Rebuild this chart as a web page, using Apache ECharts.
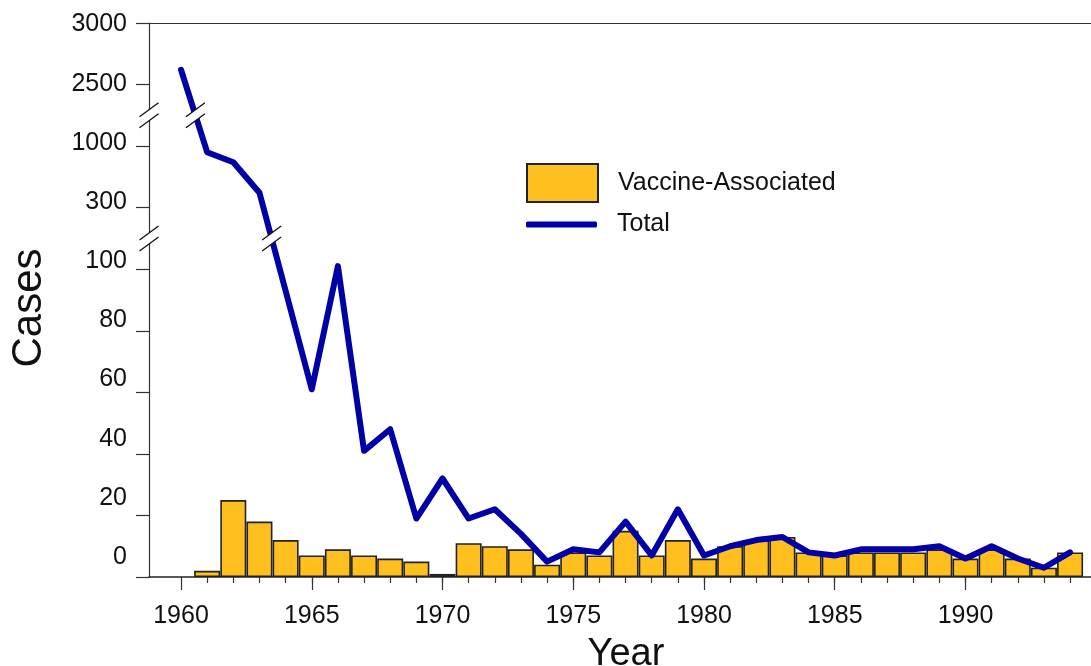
<!DOCTYPE html>
<html>
<head>
<meta charset="utf-8">
<script src="https://cdn.jsdelivr.net/npm/echarts@6/dist/echarts.min.js"></script>
<style>
  html, body { margin: 0; padding: 0; background: #fff; overflow: hidden; }
  #chart { width: 1091px; height: 666px; }
</style>
</head>
<body>
<div id="chart"></div>
<script>
// ---- data ----
const years = [1960,1961,1962,1963,1964,1965,1966,1967,1968,1969,1970,1971,1972,1973,1974,1975,1976,1977,1978,1979,1980,1981,1982,1983,1984,1985,1986,1987,1988,1989,1990,1991,1992,1993,1994];
const totalCases = [2620,931,817,470,93,61,110,41,48,19,32,19,22,14,5,9,8,18,7,22,7,10,12,13,8,7,9,9,9,10,6,10,6,3,8];
const vaccineAssociated = [null,2,25,18,12,7,9,7,6,5,1,11,10,9,4,8,7,15,7,12,6,10,12,13,8,7,8,8,8,9,6,9,6,3,8];
const yTickValues = [0,20,40,60,80,100,300,1000,2500,3000];
const xLabelYears = [1960,1965,1970,1975,1980,1985,1990];
const seriesNames = ['Vaccine-Associated', 'Total'];

// piecewise-linear broken axis: each labelled tick value sits one unit apart
function toDisplay(v) {
  for (let i = 0; i < yTickValues.length - 1; i++) {
    const a = yTickValues[i], b = yTickValues[i + 1];
    if (v <= b) return i + (v - a) / (b - a);
  }
  return yTickValues.length - 1;
}

const FONT = '"Liberation Sans", Arial, Helvetica, sans-serif';
const X_MIN = 1958.776, X_MAX = 1994.8;
// the original's tick labels drift slightly above their ticks toward the bottom
const LABEL_BASE = 0.324, LABEL_STEP = 0.9612;
const tickPositions = yTickValues.map((_, i) => i);
const labelPositions = yTickValues.map((_, i) => LABEL_BASE + i * LABEL_STEP);

const barData = [];
years.forEach((y, i) => { if (vaccineAssociated[i] != null) barData.push([y, toDisplay(vaccineAssociated[i])]); });
const lineData = years.map((y, i) => [y, toDisplay(totalCases[i])]);

const chart = echarts.init(document.getElementById('chart'), null, { renderer: 'canvas' });
const option = {
  animation: false,
  textStyle: { fontFamily: FONT },
  grid: { left: 149, right: 0, top: 23, height: 554, containLabel: false, outerBoundsMode: 'none' },
  legend: [
    {
      data: [seriesNames[0]], left: 526, top: 163, padding: 0,
      itemWidth: 71, itemHeight: 38, icon: 'rect',
      textStyle: { fontSize: 25, color: '#111', fontFamily: FONT, padding: [10, 0, 0, 15] },
      selectedMode: false
    },
    {
      data: [seriesNames[1]], left: 526, top: 212, padding: 0,
      itemWidth: 71, itemHeight: 6, icon: 'roundRect',
      textStyle: { fontSize: 25, color: '#111', fontFamily: FONT, padding: [0, 0, 0, 15] },
      selectedMode: false
    }
  ],
  xAxis: [
    {
      type: 'value', min: X_MIN, max: X_MAX, position: 'bottom',
      axisLine: { show: true, onZero: false, lineStyle: { color: '#222', width: 1.6 } },
      axisTick: { show: true, customValues: xLabelYears, length: 13, lineStyle: { color: '#333', width: 1.2 } },
      axisLabel: { customValues: xLabelYears, formatter: v => String(v), fontSize: 25, margin: 27, color: '#111', fontFamily: FONT },
      splitLine: { show: false },
      name: 'Year', nameLocation: 'middle', nameGap: 59,
      nameTextStyle: { fontSize: 38, color: '#111', fontFamily: FONT, padding: [0, 0, 0, 12] }
    },
    {
      type: 'value', min: X_MIN, max: X_MAX, position: 'top',
      axisLine: { show: true, onZero: false, lineStyle: { color: '#333', width: 1.2 } },
      axisTick: { show: false }, axisLabel: { show: false }, splitLine: { show: false }
    },
    {
      type: 'value', min: X_MIN, max: X_MAX, position: 'bottom',
      axisLine: { show: false, onZero: false },
      axisTick: { show: true, customValues: years.slice(1), length: 6, lineStyle: { color: '#333', width: 1.2 } },
      axisLabel: { show: false }, splitLine: { show: false }
    }
  ],
  yAxis: {
    type: 'value', min: 0, max: yTickValues.length - 1, interval: 1,
    axisLine: { show: true, onZero: false, lineStyle: { color: '#333', width: 1.2 } },
    axisTick: { show: true, customValues: tickPositions, length: 13, lineStyle: { color: '#333', width: 1.2 } },
    axisLabel: {
      customValues: labelPositions,
      formatter: v => String(yTickValues[Math.round((v - LABEL_BASE) / LABEL_STEP)]),
      fontSize: 25, margin: 22, color: '#111', fontFamily: FONT
    },
    splitLine: { show: false },
    name: 'Cases', nameLocation: 'middle', nameGap: 99,
    nameTextStyle: { fontSize: 42, color: '#111', fontFamily: FONT, padding: [0, 16, 0, 0] }
  },
  series: [
    {
      name: seriesNames[0], type: 'bar', xAxisIndex: 0, yAxisIndex: 0,
      data: barData, barWidth: 26,
      itemStyle: { color: '#FFC01F', borderColor: '#222', borderWidth: 1.6 },
      z: 2
    },
    {
      name: seriesNames[1], type: 'line', xAxisIndex: 0, yAxisIndex: 0,
      data: lineData, symbol: 'none', showSymbol: false,
      itemStyle: { color: '#0000A6' },
      lineStyle: { color: '#0000A6', width: 6, cap: 'round', join: 'round' },
      z: 3
    }
  ]
};
chart.setOption(option);

// ---- axis-break marks ----
const breakLevels = [7.5, 5.5];
function breakMark(cx, cy) {
  const dx = 9.5, dy = 7, gap = 5.5;
  const a1 = [cx - dx, cy - gap + dy], b1 = [cx + dx, cy - gap - dy];
  const a2 = [cx - dx, cy + gap + dy], b2 = [cx + dx, cy + gap - dy];
  return [
    { type: 'polygon', z: 100, shape: { points: [a1, b1, b2, a2] }, style: { fill: '#fff', stroke: null } },
    { type: 'line', z: 101, shape: { x1: a1[0], y1: a1[1], x2: b1[0], y2: b1[1] }, style: { stroke: '#111', lineWidth: 1.3 } },
    { type: 'line', z: 101, shape: { x1: a2[0], y1: a2[1], x2: b2[0], y2: b2[1] }, style: { stroke: '#111', lineWidth: 1.3 } }
  ];
}
const elements = [];
breakLevels.forEach(level => {
  const ap = chart.convertToPixel({ xAxisIndex: 0, yAxisIndex: 0 }, [X_MIN, level]);
  elements.push(...breakMark(ap[0], ap[1]));
  for (let i = 0; i < lineData.length - 1; i++) {
    const [x0, y0] = lineData[i], [x1, y1] = lineData[i + 1];
    if ((y0 - level) * (y1 - level) < 0) {
      const t = (y0 - level) / (y0 - y1);
      const lp = chart.convertToPixel({ xAxisIndex: 0, yAxisIndex: 0 }, [x0 + t * (x1 - x0), level]);
      elements.push(...breakMark(lp[0], lp[1]));
    }
  }
});
chart.setOption({ graphic: { elements } });
</script>
</body>
</html>
